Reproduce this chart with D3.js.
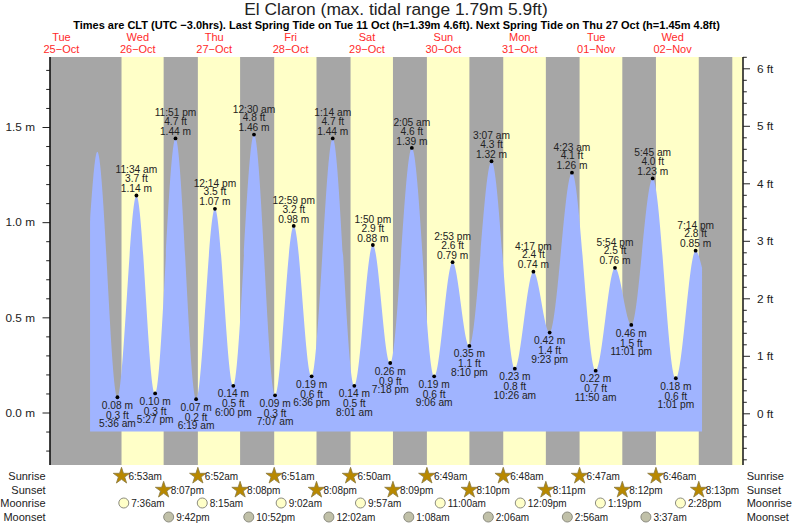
<!DOCTYPE html>
<html><head><meta charset="utf-8">
<script src="https://cdn.jsdelivr.net/npm/d3@7"></script>
<style>
html,body{margin:0;padding:0;background:#fff}
svg{display:block}
text{font-family:"Liberation Sans",Arial,Helvetica,sans-serif;fill:#222}
</style></head><body>
<svg id="c" width="793" height="525"></svg>
<script>
const titleText = "El Claron (max. tidal range 1.79m 5.9ft)";
const subtitleText = "Times are CLT (UTC \u22123.0hrs). Last Spring Tide on Tue 11 Oct (h=1.39m 4.6ft). Next Spring Tide on Thu 27 Oct (h=1.45m 4.8ft)";

const dayNoons = ["2022-10-25 12:00","2022-10-26 12:00","2022-10-27 12:00","2022-10-28 12:00","2022-10-29 12:00","2022-10-30 12:00","2022-10-31 12:00","2022-11-01 12:00","2022-11-02 12:00"];
const dayNames = ["Tue","Wed","Thu","Fri","Sat","Sun","Mon","Tue","Wed"];
const dayDates = ["25\u2212Oct","26\u2212Oct","27\u2212Oct","28\u2212Oct","29\u2212Oct","30\u2212Oct","31\u2212Oct","01\u2212Nov","02\u2212Nov"];

const sunriseTimes = ["2022-10-26 06:53","2022-10-27 06:52","2022-10-28 06:51","2022-10-29 06:50","2022-10-30 06:49","2022-10-31 06:48","2022-11-01 06:47","2022-11-02 06:46"];
const sunsetTimes = ["2022-10-26 20:07","2022-10-27 20:08","2022-10-28 20:08","2022-10-29 20:09","2022-10-30 20:10","2022-10-31 20:11","2022-11-01 20:12","2022-11-02 20:13"];
const nextSunrise = "2022-11-03 06:45";
const moonriseTimes = ["2022-10-26 07:36","2022-10-27 08:15","2022-10-28 09:02","2022-10-29 09:57","2022-10-30 11:00","2022-10-31 12:09","2022-11-01 13:19","2022-11-02 14:28"];
const moonsetTimes = ["2022-10-26 21:42","2022-10-27 22:52","2022-10-29 00:02","2022-10-30 01:08","2022-10-31 02:06","2022-11-01 02:56","2022-11-02 03:37"];

const leadTimes = ["2022-10-25 21:00","2022-10-25 23:17"];
const leadHeights = [1.0,1.37];
const tideTimes = ["2022-10-26 05:36","2022-10-26 11:34","2022-10-26 17:27","2022-10-26 23:51","2022-10-27 06:19","2022-10-27 12:14","2022-10-27 18:00","2022-10-28 00:30","2022-10-28 07:07","2022-10-28 12:59","2022-10-28 18:36","2022-10-29 01:14","2022-10-29 08:01","2022-10-29 13:50","2022-10-29 19:18","2022-10-30 02:05","2022-10-30 09:06","2022-10-30 14:53","2022-10-30 20:10","2022-10-31 03:07","2022-10-31 10:26","2022-10-31 16:17","2022-10-31 21:23","2022-11-01 04:23","2022-11-01 11:50","2022-11-01 17:54","2022-11-01 23:01","2022-11-02 05:45","2022-11-02 13:01","2022-11-02 19:14"];
const tideMetres = ["0.08","1.14","0.10","1.44","0.07","1.07","0.14","1.46","0.09","0.98","0.19","1.44","0.14","0.88","0.26","1.39","0.19","0.79","0.35","1.32","0.23","0.74","0.42","1.26","0.22","0.76","0.46","1.23","0.18","0.85"];
const tideFeet = ["0.3","3.7","0.3","4.7","0.2","3.5","0.5","4.8","0.3","3.2","0.6","4.7","0.5","2.9","0.9","4.6","0.6","2.6","1.1","4.3","0.8","2.4","1.4","4.1","0.7","2.5","1.5","4.0","0.6","2.8"];
const tailTimes = ["2022-11-02 21:15"];
const tailHeights = [0.76];
const areaFloor = -0.1;

const metreTicks = [0,0.5,1,1.5];
const metreMinor = [-0.2,-0.1,0.1,0.2,0.3,0.4,0.6,0.7,0.8,0.9,1.1,1.2,1.3,1.4,1.6,1.7,1.8];
const feetTicks = [0,1,2,3,4,5,6];
const feetMinor = [-0.8,-0.6,-0.4,-0.2,0.2,0.4,0.6,0.8,1.2,1.4,1.6,1.8,2.2,2.4,2.6,2.8,3.2,3.4,3.6,3.8,4.2,4.4,4.6,4.8,5.2,5.4,5.6,5.8,6.2];
const rowNames = ["Sunrise","Sunset","Moonrise","Moonset"];

const GRAY="#a6a6a6", YEL="#ffffc8", BLUE="#a0b4ff";
const parse = d3.utcParse("%Y-%m-%d %H:%M");
const svg = d3.select("#c");
const L=50,R=743,T=57,B=465;

// 76.4 px per day; midnight 26 Oct at x = 99.6
const x = d3.scaleUtc()
  .domain([parse("2022-10-26 00:00"),parse("2022-11-02 00:00")])
  .range([99.6,99.6+76.4*7]);
const y = d3.scaleLinear().domain([0,1.5]).range([412.5,127]);
const yFt = d3.scaleLinear().domain([0,6]).range([413.3,68.3]);

// sky bands
svg.append("rect").attr("x",L).attr("y",T).attr("width",R-L).attr("height",B-T).attr("fill",GRAY);
const bandG = svg.append("g");
sunriseTimes.forEach((s,i)=>{
  bandG.append("rect").attr("x",x(parse(s))).attr("y",T)
    .attr("width",x(parse(sunsetTimes[i]))-x(parse(s))).attr("height",B-T).attr("fill",YEL);
});
bandG.append("rect").attr("x",x(parse(nextSunrise))).attr("y",T)
  .attr("width",R-x(parse(nextSunrise))).attr("height",B-T).attr("fill",YEL);

// tide area
const curve = [
  ...leadTimes.map((t,i)=>({t:parse(t),h:leadHeights[i]})),
  ...tideTimes.map((t,i)=>({t:parse(t),h:+tideMetres[i]})),
  ...tailTimes.map((t,i)=>({t:parse(t),h:tailHeights[i]}))
];
svg.append("path").datum(curve)
  .attr("fill",BLUE)
  .attr("d",d3.area().x(d=>x(d.t)).y0(y(areaFloor)).y1(d=>y(d.h)).curve(d3.curveMonotoneX));

// tide labels
const timeFmt = d3.utcFormat("%-I:%M %p");
const LAB=10.2;
const labG = svg.append("g").attr("font-size",LAB).attr("text-anchor","middle");
tideTimes.forEach((t,i)=>{
  const d=parse(t), px=x(d), py=y(+tideMetres[i]);
  const prev = i? +tideMetres[i-1] : leadHeights[1];
  const isHigh = +tideMetres[i] > prev;
  svg.append("circle").attr("cx",px).attr("cy",py).attr("r",1.9).attr("fill","#000");
  const tl = timeFmt(d).toLowerCase(), m = tideMetres[i]+" m", f = tideFeet[i]+" ft";
  const lines = isHigh ? [[tl,-25.6],[f,-17],[m,-7]] : [[m,8],[f,18],[tl,26.4]];
  lines.forEach(([s,o])=>labG.append("text").attr("x",px).attr("y",py+o).attr("dy","0.35em").text(s));
});

// axes
function minorAxis(g,axisFn,scale,vals){
  g.call(axisFn(scale).tickValues(vals).tickSize(3.8).tickFormat(""));
  g.select(".domain").remove();
  g.selectAll("line").attr("stroke","#222").attr("stroke-width",1);
}
const left = svg.append("g").attr("transform",`translate(${L},0)`);
left.call(d3.axisLeft(y).tickValues(metreTicks).tickSize(7.5).tickPadding(7.5)
  .tickFormat(d=>d3.format(".1f")(d)+" m"));
left.select(".domain").remove();
left.selectAll("line").attr("stroke","#222");
left.selectAll("text").attr("font-size",11.8).attr("font-family",null);
minorAxis(svg.append("g").attr("transform",`translate(${L},0)`),d3.axisLeft,y,metreMinor);
svg.append("line").attr("x1",L).attr("x2",L).attr("y1",T).attr("y2",B).attr("stroke","#111").attr("stroke-width",1.6);

const right = svg.append("g").attr("transform",`translate(${R},0)`);
right.call(d3.axisRight(yFt).tickValues(feetTicks).tickSize(7).tickPadding(7)
  .tickFormat(d=>d+" ft"));
right.select(".domain").remove();
right.selectAll("line").attr("stroke","#222");
right.selectAll("text").attr("font-size",11.8).attr("font-family",null);
minorAxis(svg.append("g").attr("transform",`translate(${R},0)`),d3.axisRight,yFt,feetMinor);
svg.append("line").attr("x1",R).attr("x2",R).attr("y1",T).attr("y2",B).attr("stroke","#222").attr("stroke-width",1.6);

// titles
svg.append("text").attr("x",396).attr("y",14.5).attr("text-anchor","middle").attr("font-size",17.4).text(titleText);
svg.append("text").attr("x",396.5).attr("y",29).attr("text-anchor","middle").attr("font-size",11).attr("font-weight","bold").style("fill","#000").text(subtitleText);

// day labels
dayNoons.forEach((d,i)=>{
  const px=x(parse(d));
  svg.append("text").attr("x",px).attr("y",41.3).attr("text-anchor","middle").attr("font-size",11).style("fill","#ff2a2a").text(dayNames[i]);
  svg.append("text").attr("x",px).attr("y",53).attr("text-anchor","middle").attr("font-size",11).style("fill","#ff2a2a").text(dayDates[i]);
});

// almanac rows
const rowY=[476,490,503,517];
rowNames.forEach((n,i)=>{
  svg.append("text").attr("x",45.6).attr("y",rowY[i]).attr("dy","0.35em").attr("text-anchor","end").attr("font-size",11).text(n);
  svg.append("text").attr("x",746.7).attr("y",rowY[i]).attr("dy","0.35em").attr("font-size",11).text(n);
});
const almFmt = d3.utcFormat("%-I:%M%p");
const star = d3.symbol().type(d3.symbolStar).size(85);
function starRow(times,ry){
  times.forEach(t=>{
    const d=parse(t), px=x(d);
    svg.append("path").attr("d",star()).attr("transform",`translate(${px},${ry})`)
      .attr("fill","#b88800").attr("stroke","#8a7a40").attr("stroke-width",0.8).attr("stroke-linejoin","round");
    svg.append("text").attr("x",px+7).attr("y",ry).attr("dy","0.35em").attr("font-size",10).text(almFmt(d).toLowerCase());
  });
}
function moonRow(times,ry,fill){
  times.forEach(t=>{
    const d=parse(t), px=x(d);
    svg.append("circle").attr("cx",px).attr("cy",ry).attr("r",5).attr("fill",fill).attr("stroke","#8c8c80").attr("stroke-width",1);
    svg.append("text").attr("x",px+7.5).attr("y",ry).attr("dy","0.35em").attr("font-size",10).text(almFmt(d).toLowerCase());
  });
}
starRow(sunriseTimes,rowY[0]);
starRow(sunsetTimes,rowY[1]);
moonRow(moonriseTimes,rowY[2],YEL);
moonRow(moonsetTimes,rowY[3],"#c0c0a8");
</script>
</body></html>
